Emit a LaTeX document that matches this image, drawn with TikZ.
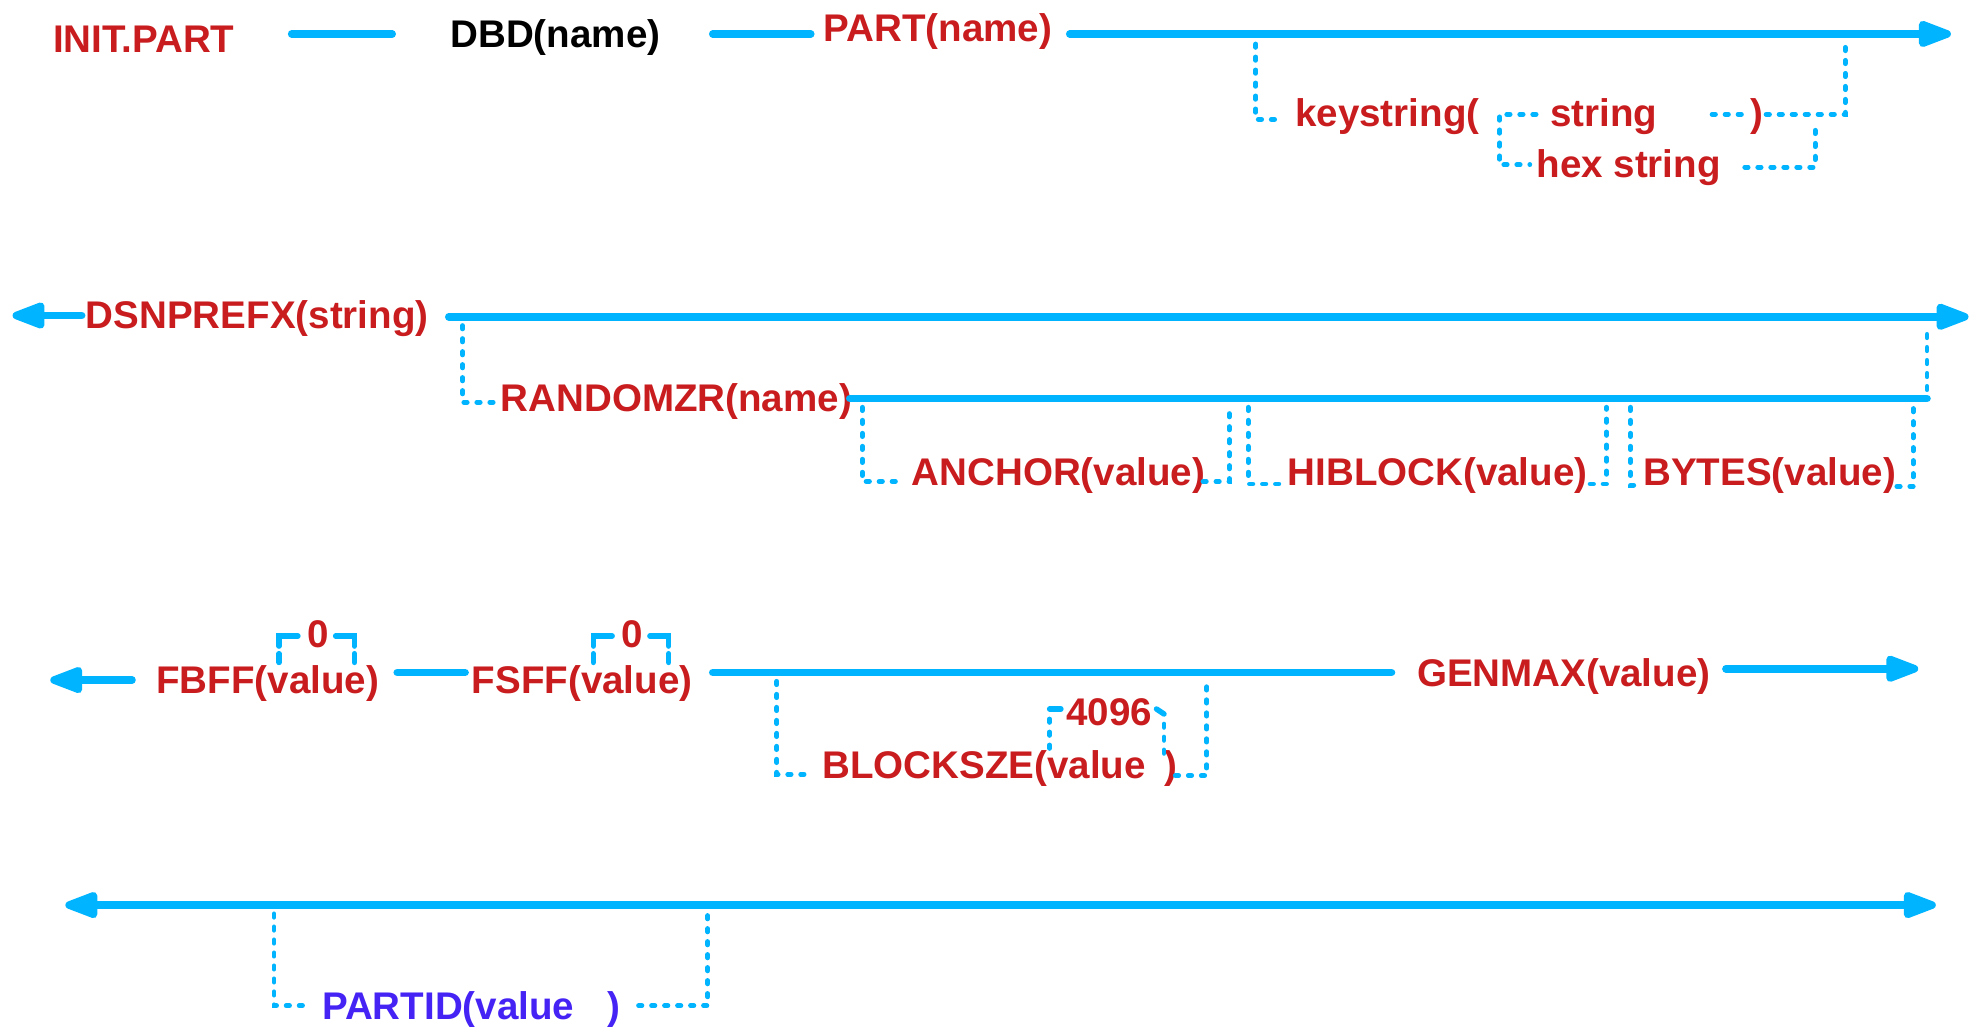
\documentclass[tikz,border=0pt]{standalone}
\usepackage{fontspec}
\setmainfont{Liberation Sans}
\usetikzlibrary{arrows.meta}
\definecolor{railblue}{RGB}{0,180,255}
\definecolor{kwred}{RGB}{200,28,30}
\definecolor{kwpurple}{RGB}{70,35,245}
\begin{document}
\begin{tikzpicture}[x=0.6pt,y=-0.6pt,
  kw/.style={font=\fontsize{18.4}{22}\selectfont\bfseries, text=kwred, inner sep=0pt, anchor=base west},
  rail/.style={draw=railblue, line width=3.6pt, line cap=round},
  railarrow/.style={rail, -{Triangle[length=19pt,width=13pt,round]}},
  opt/.style={draw=railblue, line width=2.3pt, line cap=round, dash pattern=on 1.6pt off 4.6pt},
  tick/.style={draw=railblue, line width=2.6pt, line cap=round}]
\useasboundingbox (0,0) rectangle (1568,819);

% ---------- row 1: INIT.PART DBD(name) PART(name) [keystring(...)]
\node[kw] (init) at (42,42) {INIT.PART};
\node[kw, text=black] (dbd) at (358,38) {DBD(name)};
\node[kw] (part) at (655,33) {PART(name)};
\coordinate (r1a) at (232,27);  \coordinate (r1b) at (312,27);
\coordinate (r1c) at (567,27);  \coordinate (r1d) at (645,27);
\coordinate (r1e) at (851,27);  \coordinate (r1end) at (1552,27);
\draw[rail] (r1a) -- (r1b);
\draw[rail] (r1c) -- (r1d);
\draw[railarrow] (r1e) -- (r1end);

\node[kw] (ks) at (1030,101) {keystring(};
\node[kw] (str) at (1233,101) {string};
\node[kw] (ksclose) at (1392,101) {)};
\node[kw] (hex) at (1222,141) {hex string};
\coordinate (ksdown) at (999,35);
\coordinate (ksin) at (1020,95);
\draw[opt] (ksdown) |- (ksin);
\coordinate (chtop) at (1222,91);
\coordinate (chbot) at (1217,131);
\draw[opt] (chtop) -- (1193,91) -- (1193,131) -- (chbot);
\coordinate (strout) at (1362,91);
\coordinate (strclose) at (1390,91);
\draw[opt] (strout) -- (strclose);
\coordinate (ksout) at (1405,91);
\coordinate (ksup) at (1468,34);
\draw[opt] (ksout) -| (ksup);
\coordinate (hexout) at (1388,133);
\coordinate (hexup) at (1444,97);
\draw[opt] (hexout) -| (hexup);

% ---------- row 2: DSNPREFX(string) [RANDOMZR(name) [ANCHOR|HIBLOCK|BYTES]]
\coordinate (r2s) at (65,251); \coordinate (r2tip) at (10,251);
\draw[railarrow] (r2s) -- (r2tip);
\node[kw] (dsn) at (68,261) {DSNPREFX(string)};
\coordinate (r2a) at (357,252); \coordinate (r2end) at (1566,252);
\draw[railarrow] (r2a) -- (r2end);

\coordinate (rnddown) at (368,259); \coordinate (rndin) at (394,320);
\draw[opt] (rnddown) |- (rndin);
\node[kw] (rnd) at (398,327) {RANDOMZR(name)};
\coordinate (r3a) at (676,317); \coordinate (r3b) at (1533,317);
\draw[rail] (r3a) -- (r3b);
\coordinate (rndup) at (1533,259);
\draw[opt] (1533,310) -- (rndup);

\node[kw] (anc) at (725,386) {ANCHOR(value)};
\node[kw] (hib) at (1024,386) {HIBLOCK(value)};
\node[kw] (byt) at (1307,386) {BYTES(value)};
\draw[opt] (686,324) |- (716,383);
\draw[opt] (957,383) -| (978,324);
\draw[opt] (993,324) |- (1019,385);
\draw[opt] (1265,385) -| (1278,324);
\draw[opt] (1297,324) |- (1302,386);
\draw[opt] (1509,387) -| (1522,324);

% ---------- row 3: FBFF(value) FSFF(value) [BLOCKSZE(value)] GENMAX(value)
\coordinate (r4s) at (105,541); \coordinate (r4tip) at (40,541);
\draw[railarrow] (r4s) -- (r4tip);
\node[kw] (fbff) at (124,552) {FBFF(value)};
\node[kw] (z1) at (244,515) {0};
\coordinate (r4a) at (316,535); \coordinate (r4b) at (370,535);
\draw[rail] (r4a) -- (r4b);
\node[kw] (fsff) at (375,552) {FSFF(value)};
\node[kw] (z2) at (494,515) {0};
\coordinate (r4c) at (567,535); \coordinate (r4d) at (1107,535);
\draw[rail] (r4c) -- (r4d);
\node[kw] (gen) at (1127,546) {GENMAX(value)};
\coordinate (r4e) at (1373,532); \coordinate (r4tip2) at (1526,532);
\draw[railarrow] (r4e) -- (r4tip2);

% default-value brackets over the two zeros
\draw[tick] (222,514) |- (237,506);
\draw[tick] (222,520) -- (222,527);
\draw[tick] (267,506) -| (282,514);
\draw[tick] (282,520) -- (282,527);
\draw[tick] (472,514) |- (487,506);
\draw[tick] (472,520) -- (472,527);
\draw[tick] (517,506) -| (532,514);
\draw[tick] (532,520) -- (532,527);

\node[kw] (blk) at (654,619) {BLOCKSZE(value};
\node[kw] (blkclose) at (926,619) {)};
\node[kw] (k4096) at (848,577) {4096};
\draw[opt] (618,542) |- (646,616);
\draw[opt] (935,617) -| (960,542);
\draw[tick] (835,564) -- (844,564);
\draw[opt] (835,572) -- (835,600);
\draw[tick] (920,564) -- (926,568);
\draw[opt] (926,576) -- (926,600);

% ---------- row 4: [PARTID(value)]
\coordinate (r5a) at (52,720); \coordinate (r5b) at (1540,720);
\draw[rail, {Triangle[length=19pt,width=13pt,round]}-{Triangle[length=19pt,width=13pt,round]}] (r5a) -- (r5b);
\node[kw, text=kwpurple] (pid) at (256,811) {PARTID(value};
\node[kw, text=kwpurple] (pidclose) at (483,811) {)};
\draw[opt] (218,727) |- (248,800);
\draw[opt] (508,800) -| (563,727);
\end{tikzpicture}
\end{document}
